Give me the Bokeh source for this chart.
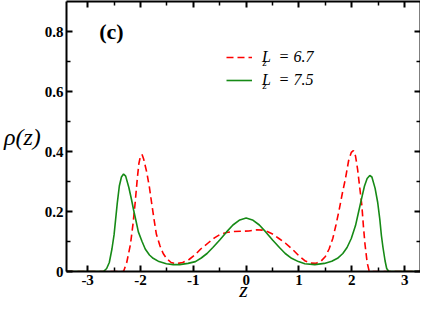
from bokeh.plotting import figure
from bokeh.models import Range1d, LinearAxis, Label, Legend, LegendItem, FixedTicker
from bokeh.embed import file_html
from bokeh.resources import INLINE

# ---- data ----
z_67 = [-3.4, -2.32, -2.26, -2.19, -2.14, -2.10, -2.06, -2.03, -2.00, -1.97, -1.94, -1.88,
        -1.83, -1.79, -1.74, -1.70, -1.63, -1.57, -1.50, -1.42, -1.32, -1.20, -1.08, -0.97,
        -0.86, -0.72, -0.60, -0.49, -0.37, -0.25, -0.10, 0.05, 0.20, 0.30, 0.40, 0.49, 0.62,
        0.74, 0.87, 0.99, 1.11, 1.22, 1.32, 1.42, 1.50, 1.57, 1.64, 1.70, 1.76, 1.82, 1.88,
        1.94, 1.99, 2.03, 2.07, 2.11, 2.15, 2.19, 2.22, 2.25, 2.29, 2.33, 3.3]
rho_67 = [0, 0, 0.03, 0.09, 0.16, 0.23, 0.31, 0.36, 0.385, 0.39, 0.375, 0.33,
          0.28, 0.23, 0.17, 0.125, 0.085, 0.06, 0.042, 0.03, 0.026, 0.03, 0.04, 0.055,
          0.075, 0.095, 0.112, 0.124, 0.13, 0.133, 0.134, 0.135, 0.139, 0.138, 0.133, 0.126, 0.11,
          0.095, 0.075, 0.054, 0.036, 0.028, 0.027, 0.035, 0.05, 0.075, 0.11, 0.155, 0.205, 0.26, 0.31,
          0.37, 0.397, 0.403, 0.385, 0.34, 0.28, 0.22, 0.15, 0.09, 0.03, 0, 0]

z_75 = [-3.4, -2.70, -2.64, -2.59, -2.54, -2.50, -2.44, -2.40, -2.36, -2.32, -2.28, -2.22,
        -2.17, -2.13, -2.08, -2.04, -1.97, -1.91, -1.83, -1.76, -1.65, -1.51, -1.38, -1.26,
        -1.10, -0.96, -0.85, -0.74, -0.63, -0.50, -0.37, -0.25, -0.12, 0.00, 0.12, 0.25, 0.37,
        0.50, 0.63, 0.74, 0.86, 0.99, 1.11, 1.30, 1.48, 1.62, 1.73, 1.83, 1.91, 1.99, 2.07,
        2.13, 2.19, 2.24, 2.29, 2.34, 2.38, 2.44, 2.49, 2.53, 2.56, 2.59, 2.63, 2.66, 2.70, 3.3]
rho_75 = [0, 0, 0.01, 0.03, 0.075, 0.122, 0.226, 0.285, 0.315, 0.325, 0.318, 0.28,
          0.24, 0.205, 0.165, 0.132, 0.1, 0.075, 0.055, 0.044, 0.033, 0.026, 0.023, 0.023,
          0.027, 0.033, 0.045, 0.06, 0.08, 0.105, 0.132, 0.155, 0.172, 0.178, 0.172, 0.155, 0.132,
          0.105, 0.08, 0.06, 0.044, 0.033, 0.026, 0.023, 0.027, 0.034, 0.044, 0.06, 0.08, 0.11, 0.153,
          0.2, 0.247, 0.285, 0.31, 0.32, 0.315, 0.278, 0.23, 0.174, 0.12, 0.08, 0.035, 0.01, 0, 0]

x_ticks = [-3, -2, -1, 0, 1, 2, 3]
x_minor = [-3.5, -2.5, -1.5, -0.5, 0.5, 1.5, 2.5]
y_ticks = [0, 0.2, 0.4, 0.6, 0.8]
y_minor = [0.1, 0.3, 0.5, 0.7]
series_labels = ["L", "L"]
series_values = ["= 6.7", "= 7.5"]

SERIF = "'Liberation Serif'"

p = figure(width=420, height=304, output_backend="svg", toolbar_location=None,
           x_range=Range1d(-3.4, 3.3), y_range=Range1d(0, 0.9),
           min_border_left=59, min_border_right=0, min_border_top=1, min_border_bottom=0,
           x_axis_location=None, y_axis_location=None)
p.outline_line_color = None
p.grid.visible = False
p.background_fill_color = "white"


def style_axis(ax, ticks, minor, labels):
    ax.ticker = FixedTicker(ticks=ticks, minor_ticks=minor)
    ax.axis_line_width = 2
    ax.axis_line_color = "black"
    ax.major_tick_in = 6
    ax.major_tick_out = 0
    ax.minor_tick_in = 4
    ax.minor_tick_out = 0
    ax.major_tick_line_width = 2
    ax.minor_tick_line_width = 1.5
    ax.major_label_text_font = SERIF
    ax.major_label_text_font_style = "bold"
    ax.major_label_text_font_size = "15px"
    ax.major_label_text_color = "black"
    ax.major_label_overrides = {t: lab for t, lab in zip(ticks, labels)}
    ax.major_label_standoff = 3 if any(labels) else 0


xb = LinearAxis()
style_axis(xb, x_ticks, x_minor, ["-3", "-2", "-1", "0", "1", "2", "3"])
xb.axis_label = "z"
xb.axis_label_text_font = SERIF
xb.axis_label_text_font_style = "italic"
xb.axis_label_text_font_size = "22px"
xb.axis_label_text_color = "black"
xb.axis_label_standoff = -11
p.add_layout(xb, "below")

xt = LinearAxis()
style_axis(xt, x_ticks, x_minor, [""] * len(x_ticks))
p.add_layout(xt, "above")

yl = LinearAxis()
style_axis(yl, y_ticks, y_minor, ["0", "0.2", "0.4", "0.6", "0.8"])
yl.axis_label = "\u03c1(z)"
yl.axis_label_text_font = SERIF
yl.axis_label_text_font_style = "italic"
yl.axis_label_text_font_size = "24px"
yl.axis_label_text_color = "black"
yl.axis_label_standoff = 1
try:
    yl.axis_label_orientation = "horizontal"
except AttributeError:
    pass
p.add_layout(yl, "left")

yr = LinearAxis()
style_axis(yr, y_ticks, y_minor, [""] * len(y_ticks))
p.add_layout(yr, "right")

r1 = p.line(z_67, rho_67, line_color="#ff0000", line_width=1.6, line_dash="7 4")
r2 = p.line(z_75, rho_75, line_color="#168a16", line_width=1.6)

legend = Legend(items=[LegendItem(label=series_labels[0] + "  " + series_values[0], renderers=[r1]),
                       LegendItem(label=series_labels[1] + "  " + series_values[1], renderers=[r2])],
                location=(160, 181), padding=0, margin=0, spacing=3,
                glyph_width=26, glyph_height=20, label_height=20, label_standoff=10,
                border_line_color=None, background_fill_alpha=0,
                label_text_font=SERIF, label_text_font_style="italic",
                label_text_font_size="16px", label_text_color="black")
p.add_layout(legend, "center")

# subscripts "z" of L_z
for yy in (0.70, 0.623):
    p.add_layout(Label(x=0.31, y=yy, text="z", text_font=SERIF, text_font_style="italic",
                       text_font_size="11px", text_baseline="middle", text_color="black"))

p.add_layout(Label(x=-2.78, y=0.8, text="(c)", text_font=SERIF, text_font_style="bold",
                   text_font_size="22px", text_baseline="middle", text_color="black"))

open("out.html", "w").write(file_html(p, INLINE))
